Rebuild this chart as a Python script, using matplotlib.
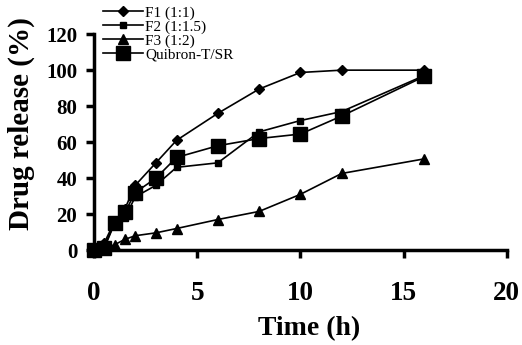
import matplotlib
matplotlib.use("Agg")
import matplotlib.pyplot as plt

time_h = [0, 0.5, 1, 1.5, 2, 3, 4, 6, 8, 10, 12, 16]
f1 = [0, 4, 16, 23, 36, 48.5, 61, 76, 89.5, 98.7, 100, 100]
f2 = [0, 2, 15, 18, 29.6, 36, 46, 48.5, 65.7, 72, 77, 97]
f3 = [0, 1, 3, 6, 8, 9.6, 12, 17, 21.5, 31, 42.6, 50.7]
quibron = [0, 1, 15, 21, 32, 40, 51.5, 58, 62, 64.5, 74.5, 96.5]

series = [
    ("F1 (1:1)", f1, "D", 5.5),
    ("F2 (1:1.5)", f2, "s", 5),
    ("F3 (1:2)", f3, "^", 7),
    ("Quibron-T/SR", quibron, "s", 10.5),
]

plt.rcParams["font.family"] = "Liberation Serif"

fig = plt.figure(figsize=(5.22, 3.45), dpi=100)
ax = fig.add_axes([0.18, 0.275, 0.791, 0.626])

for label, values, marker, size in series:
    ax.plot(time_h, values, color="black", linewidth=1.2, marker=marker,
            markersize=size, label=label, clip_on=False, zorder=3)

ax.set_xlim(0, 20)
ax.set_ylim(0, 120)
ax.set_xticks(range(0, 21, 5))
ax.set_yticks(range(0, 121, 20))

for side in ("top", "right"):
    ax.spines[side].set_visible(False)
for side in ("left", "bottom"):
    ax.spines[side].set_linewidth(2.5)

ax.tick_params(axis="both", direction="out", length=6, width=2.5)
ax.tick_params(axis="x", pad=16, labelsize=19.5)
ax.tick_params(axis="y", pad=6, labelsize=15)
for lbl in ax.get_xticklabels() + ax.get_yticklabels():
    lbl.set_fontweight("bold")

ax.set_xlabel("Time (h)", fontsize=20, fontweight="bold")
ax.xaxis.set_label_coords(0.52, -0.305)
ax.set_ylabel("Drug release (%)", fontsize=21, fontweight="bold")
ax.yaxis.set_label_coords(-0.142, 0.585)

ax.legend(loc="upper left", bbox_to_anchor=(0.022, 1.13), frameon=False,
          fontsize=11, labelspacing=0.0, handlelength=2.6, handletextpad=0.15,
          borderaxespad=0.0, borderpad=0.0)

fig.savefig("out.png", dpi=100)
